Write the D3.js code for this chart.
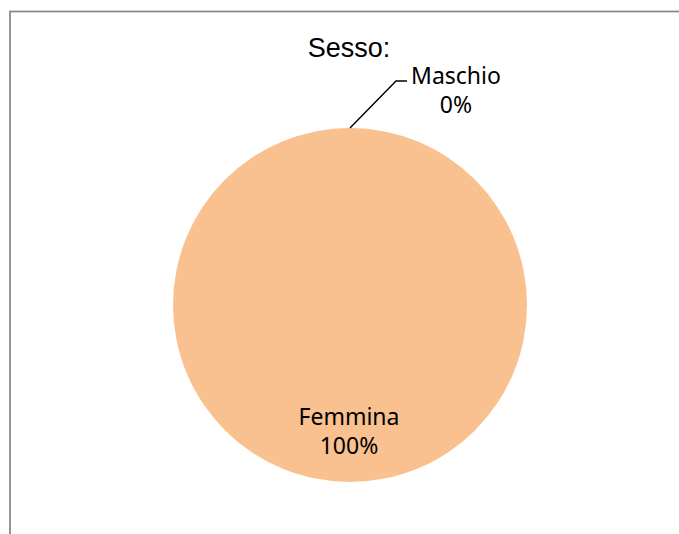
<!DOCTYPE html>
<html>
<head>
<meta charset="utf-8">
<script src="https://cdn.jsdelivr.net/npm/d3@7"></script>
<style>
  body { margin: 0; background: #fff; }
  svg { display: block; }
</style>
</head>
<body>
<div id="chart"></div>
<script>
// data
const title = "Sesso:";
const categories = ["Maschio", "Femmina"];
const values = [0, 100];
const colors = ["#4F81BD", "#F9C18F"];

const width = 679, height = 534;
const cx = 350, cy = 305, radius = 177;

const svg = d3.select("#chart").append("svg")
    .attr("width", width)
    .attr("height", height);

// chart area border (only the left and top edges are visible)
svg.append("rect")
    .attr("x", 10).attr("y", 11.5)
    .attr("width", width + 20).attr("height", height + 20)
    .attr("fill", "none")
    .attr("stroke", "#8a8a8a")
    .attr("stroke-width", 1.8);

svg.append("text")
    .attr("x", 349).attr("y", 57)
    .attr("text-anchor", "middle")
    .style("font-family", "'Liberation Sans', Arial, sans-serif")
    .style("font-size", "27px")
    .text(title);

const data = categories.map((c, i) => ({name: c, value: values[i]}));
const total = d3.sum(values);

const pie = d3.pie().sort(null).value(d => d.value);
const arcs = pie(data);

const arc = d3.arc().innerRadius(0).outerRadius(radius);
const labelArc = d3.arc().innerRadius(radius * 0.72).outerRadius(radius * 0.72);

const g = svg.append("g").attr("transform", `translate(${cx},${cy})`);

g.selectAll("path.slice").data(arcs.filter(d => d.value > 0))
    .enter().append("path")
    .attr("class", "slice")
    .attr("d", arc)
    .attr("fill", d => colors[d.index]);

const pct = d => Math.round(d.value / total * 100) + "%";
const labelFont = "'Noto Sans', 'Open Sans', sans-serif";

arcs.forEach(d => {
    let lx, ly;
    if (d.value > 0) {
        [lx, ly] = labelArc.centroid(d);
        lx -= 1;
    } else {
        // zero slice: label outside with a leader line
        const a = d.startAngle;
        const px = Math.sin(a) * radius, py = -Math.cos(a) * radius;
        const ex = px + 46, ey = py - 47;
        g.append("polyline")
            .attr("points", [[px, py], [ex, ey], [ex + 11, ey]].map(p => p.join(",")).join(" "))
            .attr("fill", "none")
            .attr("stroke", "#000")
            .attr("stroke-width", 1.4);
        lx = ex + 60; ly = ey + 10;
    }
    const t = g.append("text")
        .attr("text-anchor", "middle")
        .style("font-family", labelFont)
        .style("font-size", "23px")
        .attr("fill", "#000");
    t.append("tspan").attr("x", lx).attr("y", ly - 7).text(d.data.name);
    t.append("tspan").attr("x", lx).attr("y", ly + 22).text(pct(d));
});
</script>
</body>
</html>
